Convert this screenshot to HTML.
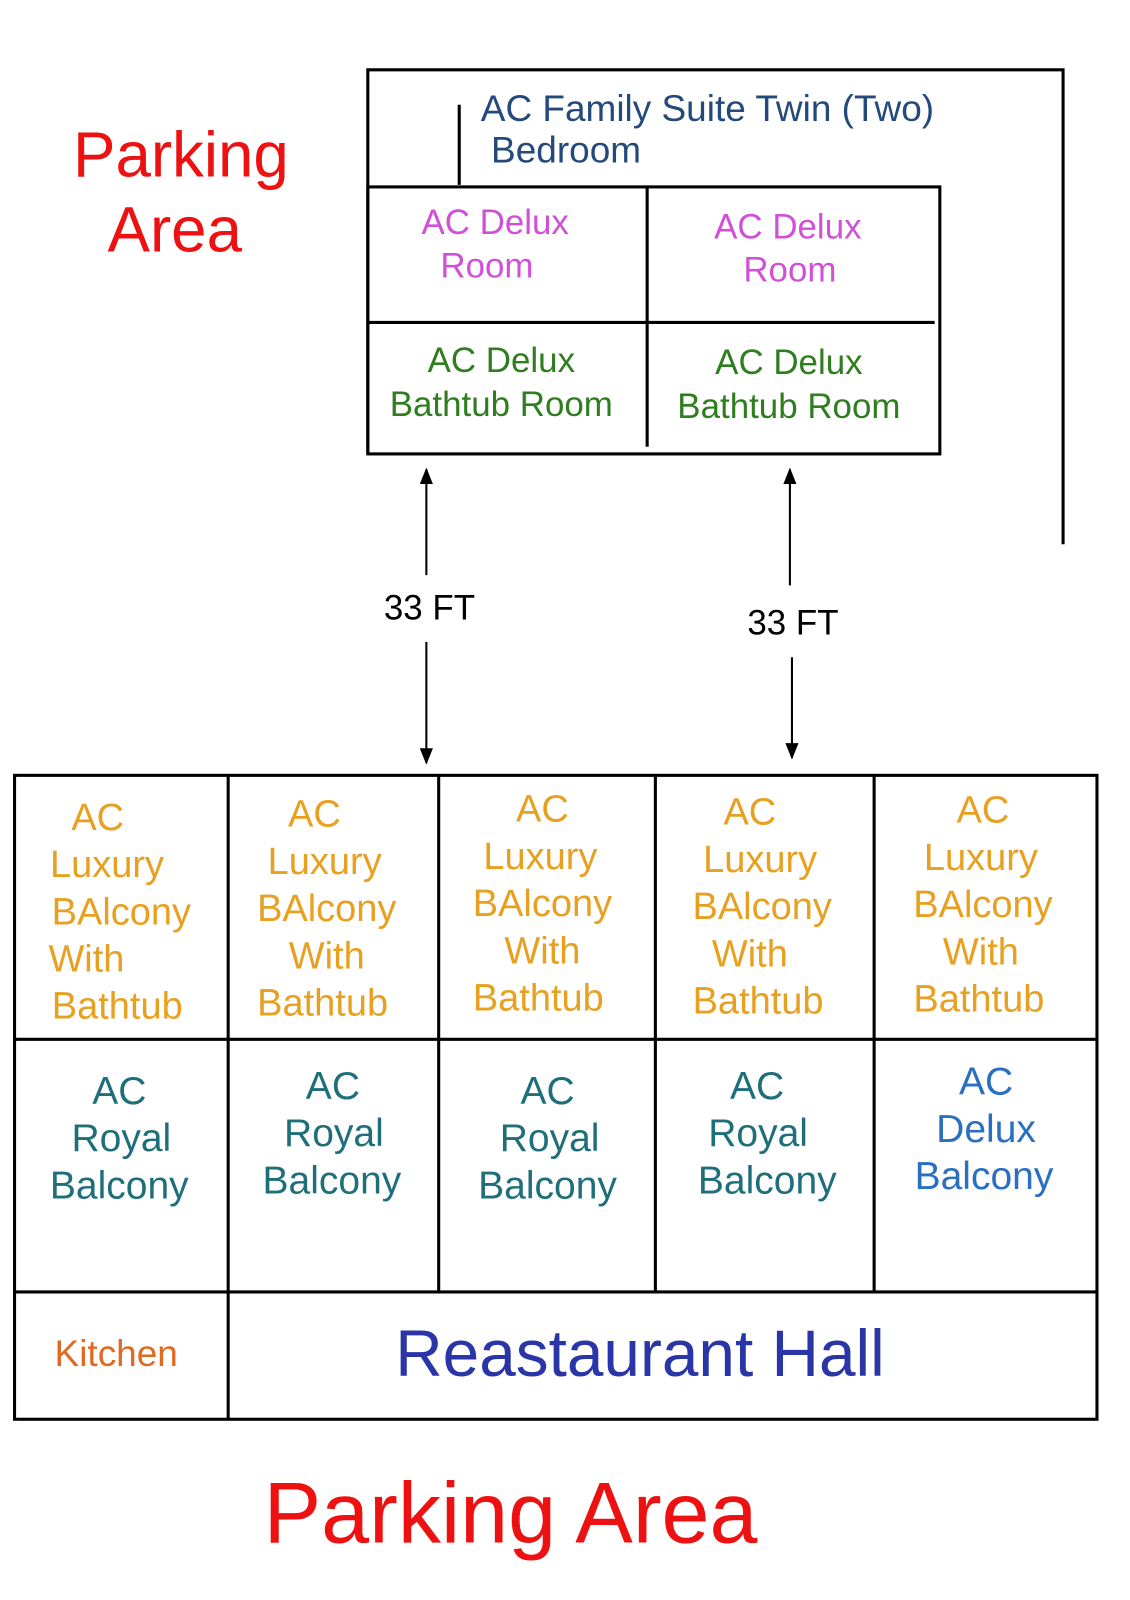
<!DOCTYPE html>
<html><head><meta charset="utf-8"><style>html,body{margin:0;padding:0;background:#fff}svg{display:block}</style></head>
<body>
<svg width="1130" height="1600" viewBox="0 0 1100 1558" xmlns="http://www.w3.org/2000/svg" font-family="Liberation Sans, sans-serif">
<defs><marker id="ah" viewBox="0 0 10 10" refX="9" refY="5" markerWidth="8" markerHeight="8" orient="auto"><path d="M0,1 L10,5 L0,9 Z" fill="#000"/></marker></defs>
<g stroke="#000" stroke-width="3" fill="none">
<path d="M358,442 V68 H1035 V530"/>
<path d="M447,102 V180"/>
<rect x="358" y="182" width="557" height="260"/>
<path d="M358,314 H910 M630,182 V435"/>
<path d="M415,560 V457" stroke-width="2" marker-end="url(#ah)"/>
<path d="M415,625 V743" stroke-width="2" marker-end="url(#ah)"/>
<path d="M769,570 V457" stroke-width="2" marker-end="url(#ah)"/>
<path d="M771,640 V738" stroke-width="2" marker-end="url(#ah)"/>
<rect x="14" y="755" width="1054" height="627"/>
<path d="M14,1012 H1068 M14,1258 H1068 M222,755 V1382 M427,755 V1258 M638,755 V1258 M851,755 V1258"/>
</g>
<g font-size="36" fill="#234a7a"><text x="468" y="118">AC Family Suite Twin (Two)</text><text x="478" y="158">Bedroom</text></g>
<g font-size="34" fill="#d050d8" text-anchor="middle"><text x="482" y="228">AC Delux</text><text x="474" y="270">Room</text><text x="767" y="232">AC Delux</text><text x="769" y="274">Room</text></g>
<g font-size="34" fill="#2e7d1e" text-anchor="middle"><text x="488" y="362">AC Delux</text><text x="488" y="405">Bathtub Room</text><text x="768" y="364">AC Delux</text><text x="768" y="407">Bathtub Room</text></g>
<g font-size="34" fill="#000" text-anchor="middle"><text x="418" y="603">33 FT</text><text x="772" y="618">33 FT</text></g>
<g font-size="37" fill="#e8a020" text-anchor="middle">
<text x="95" y="808">AC</text><text x="104" y="854">Luxury</text><text x="118" y="900">BAlcony</text><text x="84" y="946">With</text><text x="114" y="992">Bathtub</text>
<text x="306" y="805">AC</text><text x="316" y="851">Luxury</text><text x="318" y="897">BAlcony</text><text x="318" y="943">With</text><text x="314" y="989">Bathtub</text>
<text x="528" y="800">AC</text><text x="526" y="846">Luxury</text><text x="528" y="892">BAlcony</text><text x="528" y="938">With</text><text x="524" y="984">Bathtub</text>
<text x="730" y="803">AC</text><text x="740" y="849">Luxury</text><text x="742" y="895">BAlcony</text><text x="730" y="941">With</text><text x="738" y="987">Bathtub</text>
<text x="957" y="801">AC</text><text x="955" y="847">Luxury</text><text x="957" y="893">BAlcony</text><text x="955" y="939">With</text><text x="953" y="985">Bathtub</text>
</g>
<g font-size="38" fill="#1f6f7a" text-anchor="middle">
<text x="116" y="1075">AC</text><text x="118" y="1121">Royal</text><text x="116" y="1167">Balcony</text>
<text x="324" y="1070">AC</text><text x="325" y="1116">Royal</text><text x="323" y="1162">Balcony</text>
<text x="533" y="1075">AC</text><text x="535" y="1121">Royal</text><text x="533" y="1167">Balcony</text>
<text x="737" y="1070">AC</text><text x="738" y="1116">Royal</text><text x="747" y="1162">Balcony</text>
</g>
<g font-size="38" fill="#2a6fc0" text-anchor="middle"><text x="960" y="1066">AC</text><text x="960" y="1112">Delux</text><text x="958" y="1158">Balcony</text></g>
<text x="113" y="1330" font-size="36" fill="#e06a20" text-anchor="middle">Kitchen</text>
<text x="623" y="1340" font-size="64" fill="#2a35a8" text-anchor="middle">Reastaurant Hall</text>
<g fill="#ee1111" text-anchor="middle"><text x="176" y="172" font-size="62">Parking</text><text x="170" y="245" font-size="62">Area</text><text x="497" y="1502" font-size="84">Parking Area</text></g>
</svg>
</body></html>
